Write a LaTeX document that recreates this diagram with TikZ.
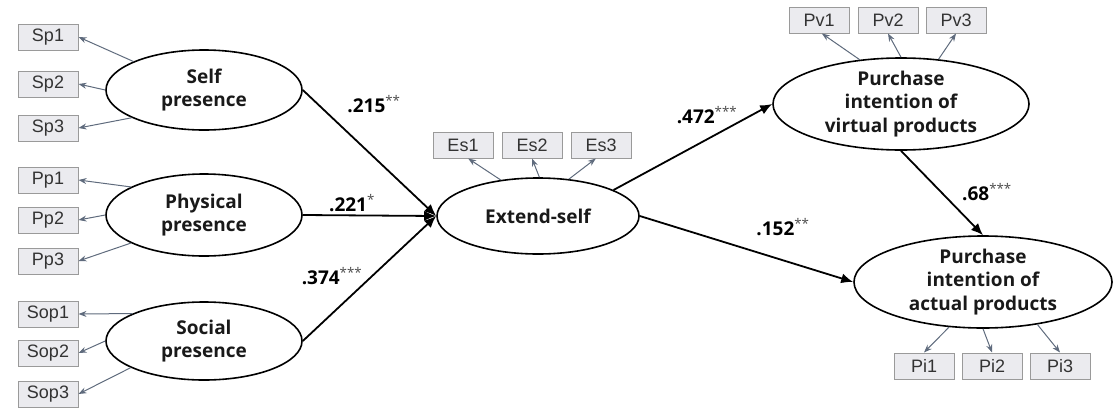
\documentclass[tikz,border=0pt]{standalone}
\usepackage{fontspec}
\setmainfont{Open Sans}
\newfontfamily\boxfont{Liberation Sans}
\usepackage{xcolor}
\usetikzlibrary{shapes,arrows.meta,positioning,calc}

\definecolor{loadgray}{HTML}{5F6B7D}
\definecolor{boxfill}{HTML}{EBEBEF}
\definecolor{boxline}{HTML}{9A9A9A}

\tikzset{
  latent/.style={ellipse,draw,line width=1.6pt,inner sep=0pt},
  lattext/.style={align=center,text=black!90,font=\fontsize{19}{23.5}\selectfont\bfseries},
  item/.style={rectangle,draw=boxline,fill=boxfill,line width=1pt,minimum width=60pt,
    minimum height=26pt,inner sep=0pt,text=black!80,font=\boxfont\fontsize{18}{20}\selectfont},
  load/.style={loadgray,line width=1pt,-{Stealth[length=8pt,width=6pt]}},
  effect/.style={line width=1.8pt,-{Latex[length=12pt,width=10pt]}},
  coef/.style={font=\fontsize{19}{21}\selectfont\bfseries}
}
\newcommand{\stars}[1]{\textsuperscript{\mdseries\color{black!70}#1}}

\begin{document}
\begin{tikzpicture}[x=1pt,y=-1pt]
    \useasboundingbox (0,0) rectangle (1115,407);
    % Latent variables
    \node[latent,minimum width=196pt,minimum height=80pt] (self) at (204,90) {};
    \node[lattext] (selfT) at (self.center) {Self\\presence};
    \node[latent,minimum width=196pt,minimum height=82pt] (phys) at (204,215) {};
    \node[lattext] (physT) at (phys.center) {Physical\\presence};
    \node[latent,minimum width=196pt,minimum height=78pt] (social) at (204,341) {};
    \node[lattext] (socialT) at (social.center) {Social\\presence};
    \node[latent,minimum width=202pt,minimum height=76pt] (ext) at (538,216) {};
    \node[lattext] (extT) at (ext.center) {Extend-self};
    \node[latent,minimum width=256pt,minimum height=92pt] (pv) at (901,104) {};
    \node[lattext] (pvT) at (pv.center) {Purchase\\intention of\\virtual products};
    \node[latent,minimum width=258pt,minimum height=92pt] (pa) at (983,282) {};
    \node[lattext] (paT) at (pa.center) {Purchase\\intention of\\actual products};
    % Items
    \node[item] (Sp1) at (48,37) {Sp1};
    \node[item] (Sp2) at (48,84) {Sp2};
    \node[item] (Sp3) at (48,128) {Sp3};
    \node[item] (Pp1) at (48,180) {Pp1};
    \node[item] (Pp2) at (48,220) {Pp2};
    \node[item] (Pp3) at (48,261) {Pp3};
    \node[item] (Sop1) at (48,314) {Sop1};
    \node[item] (Sop2) at (48,353) {Sop2};
    \node[item] (Sop3) at (48,394) {Sop3};
    \node[item] (Es1) at (463,145) {Es1};
    \node[item] (Es2) at (532,145) {Es2};
    \node[item] (Es3) at (601,145) {Es3};
    \node[item] (Pv1) at (819,20) {Pv1};
    \node[item] (Pv2) at (888,20) {Pv2};
    \node[item] (Pv3) at (956,20) {Pv3};
    \node[item] (Pi1) at (924,366) {Pi1};
    \node[item] (Pi2) at (992,366) {Pi2};
    \node[item] (Pi3) at (1060,366) {Pi3};
    % Loadings
    \draw[load] (self.158) -- (Sp1.east);
    \draw[load] (self.west) -- (Sp2.east);
    \draw[load] (self.201) -- (Sp3.east);
    \draw[load] (phys.159) -- (Pp1.east);
    \draw[load] (phys.west) -- (Pp2.east);
    \draw[load] (phys.201) -- (Pp3.east);
    \draw[load] (social.159) -- (Sop1.east);
    \draw[load] (social.west) -- (Sop2.east);
    \draw[load] (social.200) -- (Sop3.east);
    \draw[load] (ext.136) -- (Es1.-69);
    \draw[load] (ext.88) -- (Es2.south);
    \draw[load] (ext.50) -- (Es3.-111);
    \draw[load] (pv.133) -- (Pv1.-78);
    \draw[load] (pv.90) -- (Pv2.south);
    \draw[load] (pv.50) -- (Pv3.south);
    \draw[load] (pa.-127) -- (Pi1.north);
    \draw[load] (pa.-90) -- (Pi2.north);
    \draw[load] (pa.-38) -- (Pi3.north);
    % Paths
    \draw[effect] (self.east) -- (ext.west);
    \draw[effect] (phys.east) -- (ext.west);
    \draw[effect] (social.east) -- (ext.west);
    \draw[effect] (ext.19) -- (pv.west);
    \draw[effect] (ext.east) -- (pa.west);
    \draw[effect] (pv.south) -- (pa.north);
    % Coefficients
    \node[coef] (c1) at (374,104) {.215\stars{**}};
    \node[coef] (c2) at (352,203) {.221\stars{*}};
    \node[coef] (c3) at (332,276) {.374\stars{***}};
    \node[coef] (c4) at (707,115) {.472\stars{***}};
    \node[coef] (c5) at (783,227) {.152\stars{**}};
    \node[coef] (c6) at (987,192) {.68\stars{***}};
\end{tikzpicture}
\end{document}
